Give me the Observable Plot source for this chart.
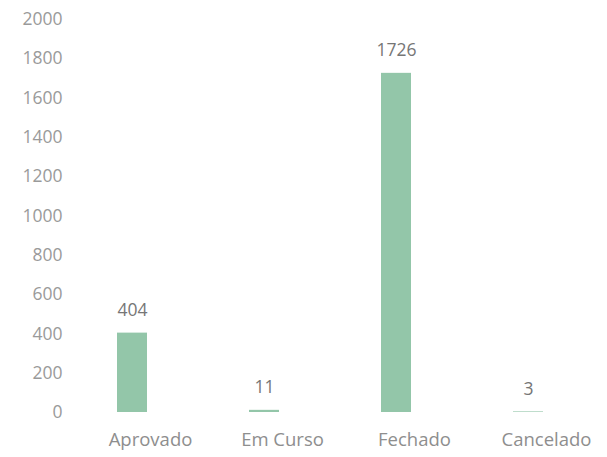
<!DOCTYPE html>
<html>
<head>
<meta charset="utf-8">
<script src="https://cdn.jsdelivr.net/npm/d3@7"></script>
<script src="https://cdn.jsdelivr.net/npm/@observablehq/plot@0.6"></script>
<style>
  html, body { margin: 0; padding: 0; background: #fff; }
  #chart svg { display: block; }
</style>
</head>
<body>
<div id="chart"></div>
<script>
const categories = ["Aprovado", "Em Curso", "Fechado", "Cancelado"];
const values = [404, 11, 1726, 3];
const yTicks = [0, 200, 400, 600, 800, 1000, 1200, 1400, 1600, 1800, 2000];

const data = categories.map((c, i) => ({category: c, value: values[i]}));

const chart = Plot.plot({
  width: 607,
  height: 457,
  marginTop: 19,
  marginBottom: 45,
  marginLeft: 65,
  marginRight: 12,
  style: {fontFamily: "'Open Sans', sans-serif", fontSize: "18px", background: "#fff", color: "#8c8c8c"},
  x: {domain: categories, paddingInner: 0.774, paddingOuter: 0.387, label: null},
  y: {domain: [0, 2000], ticks: yTicks, label: null},
  marks: [
    Plot.axisY({ticks: yTicks, tickFormat: d => String(d), tickSize: 0, tickPadding: 3, fontSize: 17.5, fill: "#9a9a9a", label: null}),
    Plot.axisX({tickSize: 0, tickPadding: 20, dx: 18, fontSize: 18.5, fill: "#8e8e8e", label: null}),
    Plot.barY(data, {x: "category", y: "value", fill: "#93c6a9"}),
    Plot.text(data, {x: "category", y: "value", text: d => String(d.value), dy: -23, fill: "#767676", fontSize: 17.5, textAnchor: "middle"})
  ]
});
document.getElementById("chart").appendChild(chart);
</script>
</body>
</html>
